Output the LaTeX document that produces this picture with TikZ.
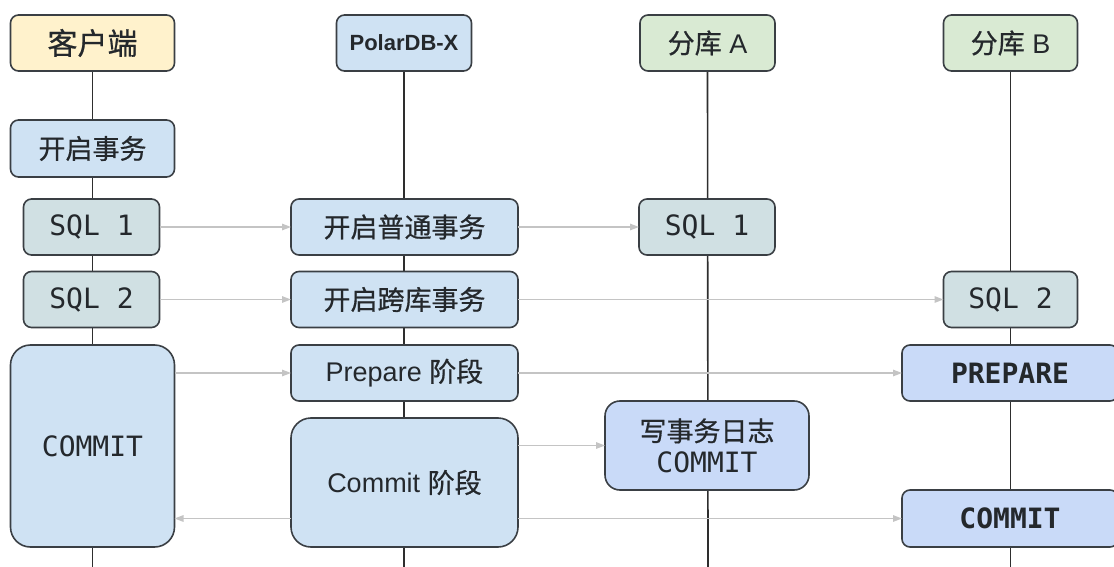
\documentclass[tikz,border=0pt]{standalone}
\usepackage{fontspec}
\setmainfont{Liberation Sans}
\setmonofont{DejaVu Sans Mono}
\newfontfamily\cjk[FakeBold=0.6]{Noto Sans CJK SC}
\usetikzlibrary{arrows.meta,backgrounds}
\definecolor{bordercol}{HTML}{3A3F44}
\definecolor{textcol}{HTML}{24282C}
\definecolor{yellowfill}{HTML}{FFF2CC}
\definecolor{bluefill}{HTML}{CFE2F3}
\definecolor{greenfill}{HTML}{D9EAD3}
\definecolor{tealfill}{HTML}{D0E0E3}
\definecolor{shardfill}{HTML}{C9DAF8}
\definecolor{arrowcol}{HTML}{C4C4C4}
\definecolor{linecol}{HTML}{2E2E2E}
\begin{document}
\begin{tikzpicture}[x=1pt,y=-1pt,
  box/.style={draw=bordercol, line width=1.6pt, rounded corners=8pt, inner sep=0pt, outer sep=0pt,
    text=textcol, font=\fontsize{27}{33}\selectfont, align=center},
  hdr/.style={box, minimum height=56pt},
  std/.style={box, minimum height=56pt},
  big/.style={box, rounded corners=20pt},
  msg/.style={draw=arrowcol, line width=1.4pt, -{Triangle[length=9pt,width=6.5pt]}},
  life/.style={draw=linecol, line width=1.6pt}]
\useasboundingbox (0,0) rectangle (1114,567);
\clip (0,0) rectangle (1114,567);
% headers
\node[hdr, fill=yellowfill, minimum width=164pt, font=\fontsize{30}{36}\selectfont] (h1) at (92.5,43) {\cjk 客户端};
\node[hdr, fill=bluefill, minimum width=135pt, font=\fontsize{22}{26}\selectfont\bfseries] (h2) at (404,43) {PolarDB-X};
\node[hdr, fill=greenfill, minimum width=135pt] (h3) at (707.5,43) {{\cjk 分库} A};
\node[hdr, fill=greenfill, minimum width=134pt] (h4) at (1010.5,43) {{\cjk 分库} B};
% client column
\node[std, fill=bluefill, minimum width=164pt, minimum height=57pt] (c1) at (92.5,148.5) {\cjk 开启事务};
\node[std, fill=tealfill, minimum width=136pt, font=\fontsize{28}{33}\ttfamily] (c2) at (91.5,227) {SQL 1};
\node[std, fill=tealfill, minimum width=136pt, font=\fontsize{28}{33}\ttfamily] (c3) at (91.5,299.5) {SQL 2};
\node[big, fill=bluefill, minimum width=164pt, minimum height=202pt, font=\fontsize{28}{33}\ttfamily] (c4) at (92.5,446) {COMMIT};
% PolarDB-X column
\node[std, fill=bluefill, minimum width=227pt] (p1) at (404.5,227) {\cjk 开启普通事务};
\node[std, fill=bluefill, minimum width=227pt] (p2) at (404.5,299.5) {\cjk 开启跨库事务};
\node[std, fill=bluefill, minimum width=227pt] (p3) at (404.5,373) {Prepare {\cjk 阶段}};
\node[big, fill=bluefill, minimum width=227pt, minimum height=129pt] (p4) at (404.5,482.5) {Commit {\cjk 阶段}};
% shard A
\node[std, fill=tealfill, minimum width=136pt, font=\fontsize{28}{33}\ttfamily] (a1) at (707,227) {SQL 1};
\node[box, fill=shardfill, rounded corners=15pt, minimum width=204pt, minimum height=89pt] (a2) at (707,445.5)
  {{\cjk 写事务日志}\\[-2pt]{\fontsize{28}{33}\ttfamily COMMIT}};
% shard B
\node[std, fill=tealfill, minimum width=134pt, font=\fontsize{28}{33}\ttfamily] (b1) at (1010.5,299.5) {SQL 2};
\node[std, fill=shardfill, minimum width=216pt, font=\fontsize{28}{33}\ttfamily\bfseries] (b2) at (1010,373) {PREPARE};
\node[std, fill=shardfill, minimum width=216pt, minimum height=57pt, font=\fontsize{28}{33}\ttfamily\bfseries] (b3) at (1010,518.5) {COMMIT};
% lifeline ends
\coordinate (e1) at (92.5,567);
\coordinate (e2) at (404,567);
\coordinate (e3) at (708,567);
\coordinate (e4) at (1010.5,567);
\begin{scope}[on background layer]
\draw[life] (h1.south) -- (e1);
\draw[life] (h2.south) -- (e2);
\draw[life] (h3.south) -- (e3);
\draw[life] (h4.south) -- (e4);
\end{scope}
% messages
\draw[msg] (c2.east) -- (p1.west);
\draw[msg] (p1.east) -- (a1.west);
\draw[msg] (c3.east) -- (p2.west);
\draw[msg] (p2.east) -- (b1.west);
\draw[msg] (c4.east |- p3.west) -- (p3.west);
\draw[msg] (p3.east) -- (b2.west);
\draw[msg] (p4.east |- a2.west) -- (a2.west);
\draw[msg] (p4.east |- b3.west) -- (b3.west);
\draw[msg] (p4.west |- b3.west) -- (c4.east |- b3.west);
\end{tikzpicture}
\end{document}
